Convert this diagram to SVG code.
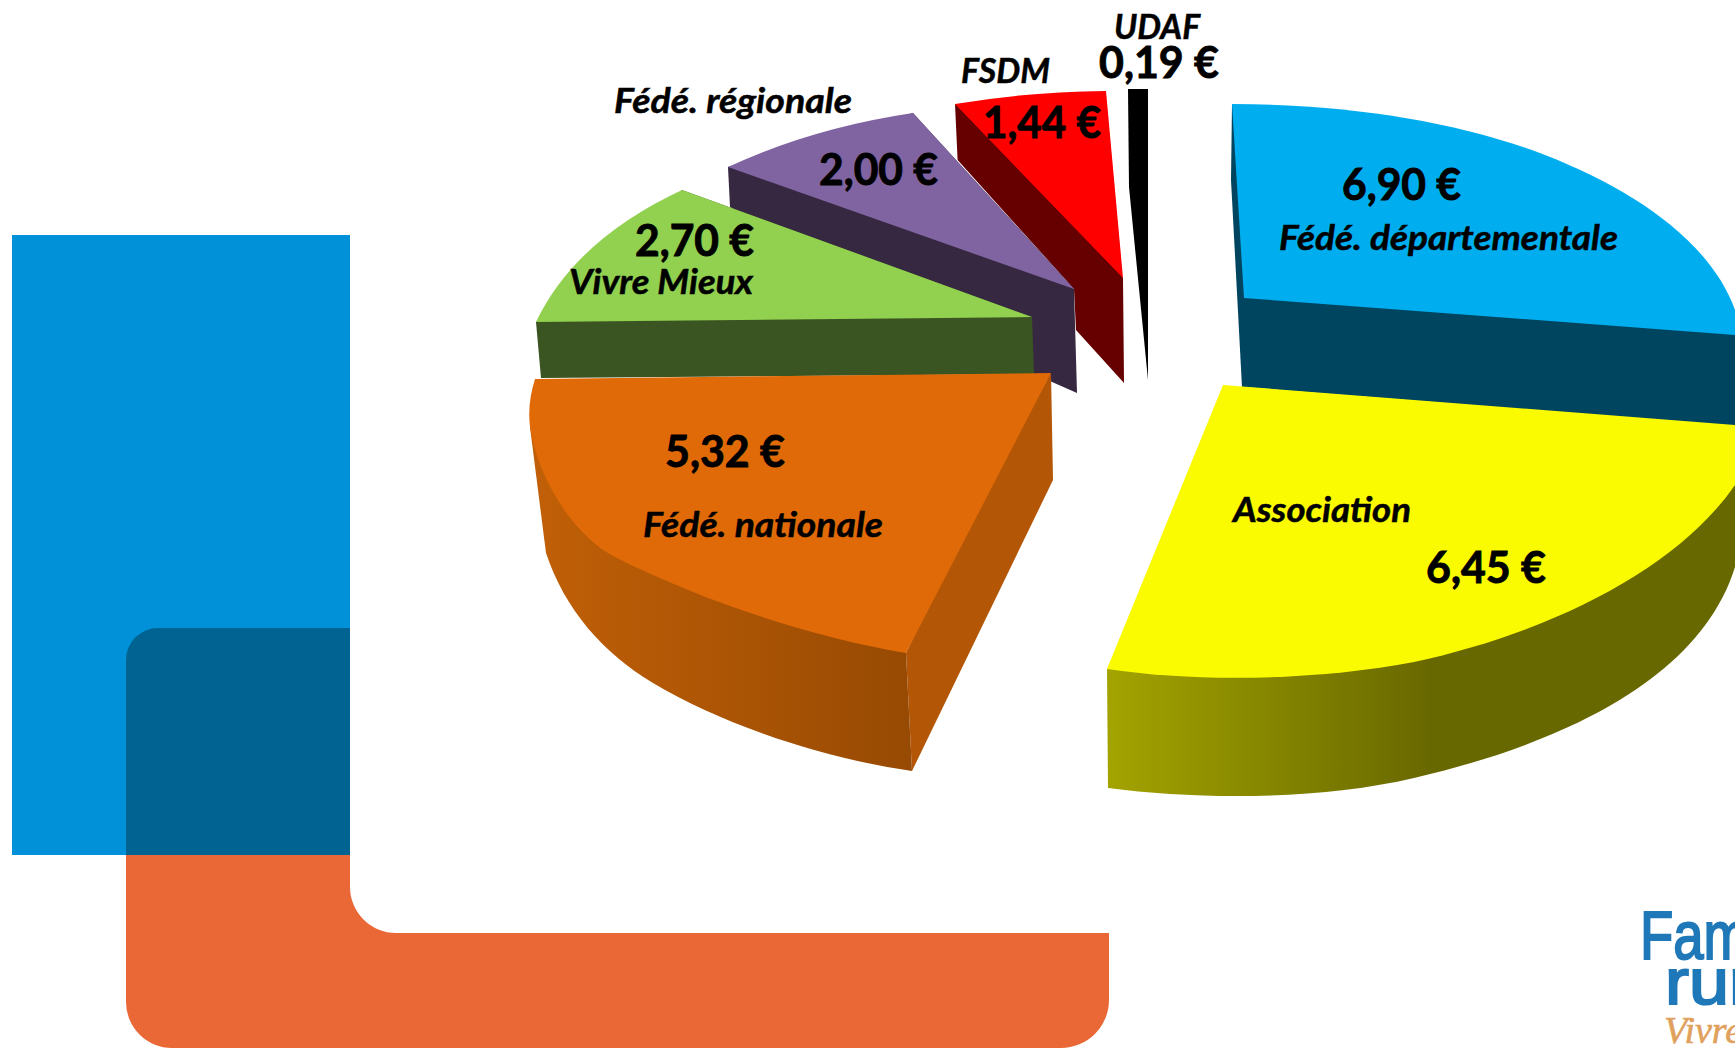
<svg xmlns="http://www.w3.org/2000/svg" width="1735" height="1048" viewBox="0 0 1735 1048">
<style>
.val{font-family:"Lato","Liberation Sans",sans-serif;font-weight:700;font-size:44px;fill:#000;stroke:#000;stroke-width:.9px}
.lab{font-family:"Lato","Liberation Sans",sans-serif;font-weight:700;font-style:italic;font-size:35px;fill:#000;stroke:#000;stroke-width:.5px}
.logo{font-family:"Liberation Sans",Arial,sans-serif;fill:#1F78B8;stroke:#1F78B8;stroke-width:2px}
</style>
<defs>
<linearGradient id="gOrange" gradientUnits="userSpaceOnUse" x1="540" y1="0" x2="912" y2="0"><stop offset="0" stop-color="#C05F07"/><stop offset="1" stop-color="#974A03"/></linearGradient>
<linearGradient id="gYellow" gradientUnits="userSpaceOnUse" x1="1108" y1="0" x2="1430" y2="0"><stop offset="0" stop-color="#A3A300"/><stop offset="1" stop-color="#686800"/></linearGradient>
</defs>
<rect width="1735" height="1048" fill="#fff"/>
<g id="background">
<rect x="12" y="235" width="338" height="620" fill="#0091D9"/>
<path d="M126,855V660a32,32 0 0 1 32,-32H350V855Z" fill="#006391"/>
<path d="M126,855H350V887a46,46 0 0 0 46,46H1109V1000a48,48 0 0 1 -48,48H172a46,46 0 0 1 -46,-46Z" fill="#E96835"/>
</g>
<g id="slice-udaf">
<path d="M1128,89H1148V380L1129,187Z" fill="#000"/>
</g>
<g id="slice-fsdm">
<path d="M955,104L1050,130L1123,278L1124,383L1076,330L1074,289L957.6,160Z" fill="#660000"/>
<path d="M955,104Q1025,92 1106,91L1123,278Z" fill="#FF0000"/>
</g>
<g id="slice-regionale">
<path d="M728,167L913,113L1074,289L1077,393L1034,374L730,207Z" fill="#372841"/>
<path d="M728,167Q812,128 913,113L1074,289Z" fill="#8064A2"/>
</g>
<g id="slice-vivre-mieux">
<path d="M536,322L682,190L1032,317L1034,374L541,378Z" fill="#3B5522"/>
<path d="M536,322Q575,240 682,190L1032,317Z" fill="#92D050"/>
</g>
<g id="slice-departementale">
<path d="M1232,104L1231,180L1242,387L1735,426V310L1500,200Z" fill="#004560"/>
<path d="M1232,104C1350,104 1460,122 1545,155C1630,188 1710,240 1735,310V335L1244,298Z" fill="#00AEEF"/>
</g>
<g id="slice-nationale">
<path d="M906,653L912,771L1053,480L1051,373L980,500Z" fill="#B35606"/>
<path d="M530,427L546,553C565,610 603,653 653,683C720,723 820,758 912,771L906,653L700,500Z" fill="url(#gOrange)"/>
<path d="M535,379L1051,373L906,653C810,637 700,600 615,557C575,537 538,480 530,427C528,410 530,395 535,379Z" fill="#E06A08"/>
</g>
<g id="slice-association">
<path d="M1107,669L1108,788C1200,800 1320,800 1414,778C1560,744 1700,680 1735,567V485L1400,600Z" fill="url(#gYellow)"/>
<path d="M1223,385L1735,425V485C1680,565 1560,630 1414,662C1320,680 1200,683 1107,669Z" fill="#FAFA00"/>
</g>
<g id="labels">
<text class="lab" x="1114" y="39" textLength="86" lengthAdjust="spacingAndGlyphs">UDAF</text>
<text class="val" x="1099" y="78" textLength="120" lengthAdjust="spacingAndGlyphs">0,19 €</text>
<text class="lab" x="961" y="83" textLength="89" lengthAdjust="spacingAndGlyphs">FSDM</text>
<text class="val" x="983" y="138" textLength="118" lengthAdjust="spacingAndGlyphs">1,44 €</text>
<text class="lab" x="614" y="113" textLength="238" lengthAdjust="spacingAndGlyphs">Fédé. régionale</text>
<text class="val" x="819" y="185" textLength="119" lengthAdjust="spacingAndGlyphs">2,00 €</text>
<text class="val" x="635" y="256" textLength="119" lengthAdjust="spacingAndGlyphs">2,70 €</text>
<text class="lab" x="569" y="294" textLength="184" lengthAdjust="spacingAndGlyphs">Vivre Mieux</text>
<text class="val" x="1342" y="200" textLength="119" lengthAdjust="spacingAndGlyphs">6,90 €</text>
<text class="lab" x="1279" y="250" textLength="339" lengthAdjust="spacingAndGlyphs">Fédé. départementale</text>
<text class="val" x="665" y="467" textLength="120" lengthAdjust="spacingAndGlyphs">5,32 €</text>
<text class="lab" x="643" y="537" textLength="240" lengthAdjust="spacingAndGlyphs">Fédé. nationale</text>
<text class="lab" x="1233" y="522" textLength="178" lengthAdjust="spacingAndGlyphs">Association</text>
<text class="val" x="1426" y="583" textLength="120" lengthAdjust="spacingAndGlyphs">6,45 €</text>
</g>
<g id="logo">
<text class="logo" x="1640" y="959" font-size="68" textLength="109" lengthAdjust="spacingAndGlyphs">Fam</text>
<text class="logo" x="1665" y="1004" font-size="65" textLength="88" lengthAdjust="spacingAndGlyphs">rur</text>
<text x="1664" y="1043" font-family="'Liberation Serif',serif" font-style="italic" font-size="38" fill="#DFA15C" stroke="#DFA15C" stroke-width=".6">Vivre</text>
</g>
</svg>
